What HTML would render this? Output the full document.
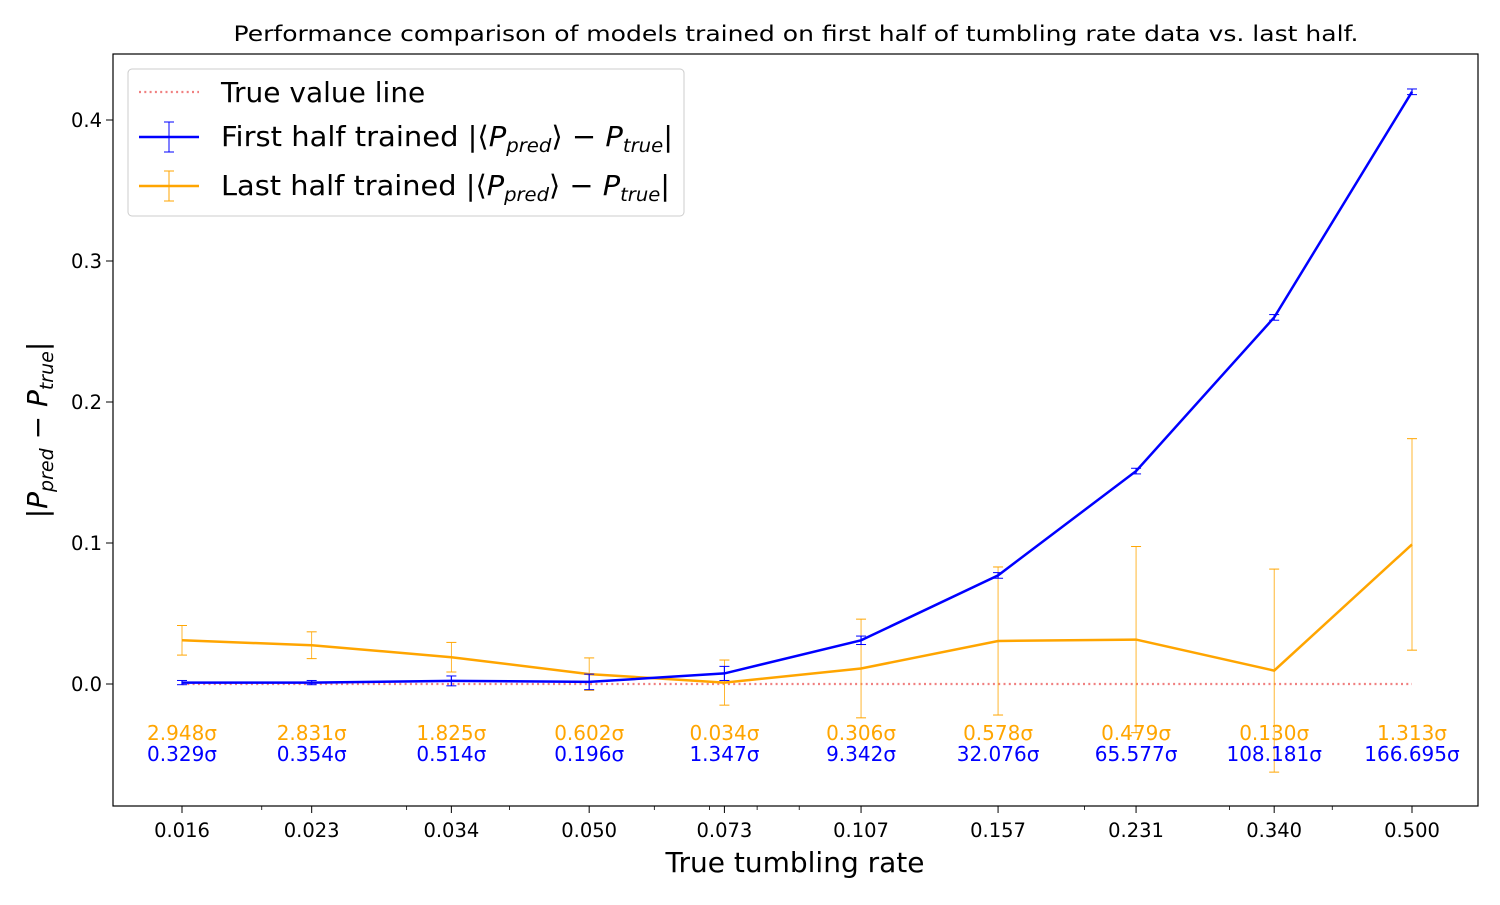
<!DOCTYPE html>
<html><head><meta charset="utf-8"><style>
body{margin:0;background:#fff;font-family:"Liberation Sans","DejaVu Sans",sans-serif}
svg text{font-family:"DejaVu Sans","Liberation Sans",sans-serif}
</style></head><body>
<svg id="chart" width="1500" height="900" xmlns="http://www.w3.org/2000/svg"></svg>
<script>
const categories=[0.016,0.023,0.034,0.050,0.073,0.107,0.157,0.231,0.340,0.500];
const tickLabels=["0.016","0.023","0.034","0.050","0.073","0.107","0.157","0.231","0.340","0.500"];
const firstVals=[0.001,0.001,0.0022,0.0015,0.0075,0.031,0.077,0.151,0.26,0.42];
const firstErr=[0.0015,0.0015,0.0035,0.0055,0.005,0.003,0.002,0.002,0.002,0.002];
const lastVals=[0.031,0.0275,0.019,0.007,0.001,0.011,0.0305,0.0315,0.0095,0.099];
const lastErr=[0.0105,0.0095,0.0105,0.0115,0.016,0.035,0.0525,0.066,0.072,0.075];
const firstSigma=["0.329σ","0.354σ","0.514σ","0.196σ","1.347σ","9.342σ","32.076σ","65.577σ","108.181σ","166.695σ"];
const lastSigma=["2.948σ","2.831σ","1.825σ","0.602σ","0.034σ","0.306σ","0.578σ","0.479σ","0.130σ","1.313σ"];
const yTicks=[0,0.1,0.2,0.3,0.4];
const minorTicks=[0.02,0.03,0.04,0.06,0.07,0.08,0.09,0.2,0.3,0.4];

const svg=document.getElementById('chart');
const NS="http://www.w3.org/2000/svg";
const L=113,R=1478,T=54,B=806;
const lx0=Math.log(0.016),lx1=Math.log(0.5);
function xs(v){return 182+(Math.log(v)-lx0)/(lx1-lx0)*(1412-182);}
function ys(v){return 684-v*1410;}
function mk(tag,attrs,parent){const e=document.createElementNS(NS,tag);for(const k in attrs)e.setAttribute(k,attrs[k]);(parent||svg).appendChild(e);return e;}
function txt(s,attrs){const e=mk('text',attrs);e.textContent=s;return e;}

let t=txt("Performance comparison of models trained on first half of tumbling rate data vs. last half.",{x:796,y:41,'font-size':21.5,'text-anchor':'middle',textLength:1125,lengthAdjust:'spacingAndGlyphs'});


let tl=mk('line',{x1:xs(categories[0]),x2:xs(categories[9]),y1:ys(0),y2:ys(0),stroke:'#f08080','stroke-width':2.3,'stroke-dasharray':'2,3.3'});


function series(vals,errs,color,name,lw){
  const g=mk('g',{});
  
  
  vals.forEach((v,i)=>{
    const x=xs(categories[i]);
    mk('line',{x1:x,x2:x,y1:ys(v-errs[i]),y2:ys(v+errs[i]),stroke:color,'stroke-width':lw},g);
    mk('line',{x1:x-5,x2:x+5,y1:ys(v-errs[i]),y2:ys(v-errs[i]),stroke:color,'stroke-width':1},g);
    mk('line',{x1:x-5,x2:x+5,y1:ys(v+errs[i]),y2:ys(v+errs[i]),stroke:color,'stroke-width':1},g);
  });
  const p=mk('polyline',{points:vals.map((v,i)=>xs(categories[i])+','+ys(v)).join(' '),fill:'none',stroke:color,'stroke-width':2.5},g);
  
  
}
series(lastVals,lastErr,'orange','last-half-series',0.8);
series(firstVals,firstErr,'blue','first-half-series',1.2);

categories.forEach((c,i)=>{
  const x=xs(c);
  let a=txt(lastSigma[i],{x:x,y:740,'font-size':20,fill:'orange','text-anchor':'middle'});
  
  let b=txt(firstSigma[i],{x:x,y:761,'font-size':20,fill:'blue','text-anchor':'middle'});
  
  mk('line',{x1:x,x2:x,y1:B,y2:B+7,stroke:'#000','stroke-width':1});
  let tk=txt(tickLabels[i],{x:x,y:837,'font-size':19.5,'text-anchor':'middle'});
  
});
minorTicks.forEach(m=>{mk('line',{x1:xs(m),x2:xs(m),y1:B,y2:B+4,stroke:'#000','stroke-width':0.8});});
yTicks.forEach(v=>{
  mk('line',{x1:L-7,x2:L,y1:ys(v),y2:ys(v),stroke:'#000','stroke-width':1});
  let tk=txt(v.toFixed(1),{x:L-11,y:ys(v)+7,'font-size':19.5,'text-anchor':'end'});
  
});
let fr=mk('rect',{x:L,y:T,width:R-L,height:B-T,fill:'none',stroke:'#000','stroke-width':1.2});


let xl=txt("True tumbling rate",{x:795,y:872,'font-size':28,'text-anchor':'middle'});

const yl=mk('text',{x:0,y:0,'font-size':28,'text-anchor':'middle',transform:'translate(47,430) rotate(-90)','font-style':'italic'});
yl.innerHTML='|P<tspan font-size="19" dy="6">pred</tspan><tspan dy="-6"> − P</tspan><tspan font-size="19" dy="6">true</tspan><tspan dy="-6">|</tspan>';


const lg=mk('g',{});

mk('rect',{x:128,y:69,width:556,height:147,rx:4,fill:'#fff',stroke:'#ccc','stroke-width':1},lg);
mk('line',{x1:139,x2:199,y1:92,y2:92,stroke:'#f08080','stroke-width':2.3,'stroke-dasharray':'2,3.3'},lg);
[[137,'blue'],[186,'orange']].forEach(([y,c])=>{
  mk('line',{x1:139,x2:199,y1:y,y2:y,stroke:c,'stroke-width':2.5},lg);
  mk('line',{x1:169,x2:169,y1:y-15,y2:y+15,stroke:c,'stroke-width':1},lg);
  mk('line',{x1:164,x2:174,y1:y-15,y2:y-15,stroke:c,'stroke-width':1},lg);
  mk('line',{x1:164,x2:174,y1:y+15,y2:y+15,stroke:c,'stroke-width':1},lg);
});
const l1=mk('text',{x:221,y:102,'font-size':28},lg);l1.textContent='True value line';

const l2=mk('text',{x:221,y:146,'font-size':28,textLength:452,lengthAdjust:'spacingAndGlyphs'},lg);
l2.innerHTML='First half trained |⟨<tspan font-style="italic">P</tspan><tspan font-size="19" dy="6" font-style="italic">pred</tspan><tspan dy="-6">⟩ − </tspan><tspan font-style="italic">P</tspan><tspan font-size="19" dy="6" font-style="italic">true</tspan><tspan dy="-6">|</tspan>';

const l3=mk('text',{x:221,y:195,'font-size':28,textLength:449,lengthAdjust:'spacingAndGlyphs'},lg);
l3.innerHTML='Last half trained |⟨<tspan font-style="italic">P</tspan><tspan font-size="19" dy="6" font-style="italic">pred</tspan><tspan dy="-6">⟩ − </tspan><tspan font-style="italic">P</tspan><tspan font-size="19" dy="6" font-style="italic">true</tspan><tspan dy="-6">|</tspan>';

</script>
</body></html>
